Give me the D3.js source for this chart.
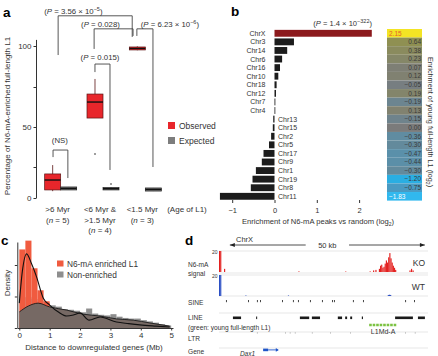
<!DOCTYPE html>
<html>
<head>
<meta charset="utf-8">
<script src="https://cdn.jsdelivr.net/npm/d3@7"></script>
<style>
  body { margin: 0; background: #fff; }
  svg { font-family: "Liberation Sans", Arial, sans-serif; }
  text { fill: #333; }
</style>
</head>
<body>
<svg id="fig" width="438" height="356"></svg>
<script>
// ---------- a : boxplots ----------
const ageLines = [[">6 Myr"], ["<6 Myr &", ">1.5 Myr"], ["<1.5 Myr"]]
const ageN = [5, 4, 3]
// [whisker low, q1, median, q3, whisker high] in %
const observedStats = [[5.5, 6.5, 14.5, 19.4, 26.2], [55.6, 55.6, 65.6, 70.6, 79.9], [97.4, 97.6, 98.5, 99.4, 99.8]]
const expectedStats = [[6.5, 6.5, 7.7, 8.9, 8.9], [6.5, 6.5, 7.5, 8.5, 8.5], [5.6, 5.6, 6.9, 8.1, 8.1]]
const observedOut = [[], [33.1], []]
const expectedOut = [[], [11.3], []]
const yTicksA = [0, 25, 50, 75, 100]
const pValues = ["NS", "0.015", "0.028", "3.56 × 10", "6.23 × 10"]
const pExp = ["", "", "", "−5", "−6"]
// bracket legs (group units) and heights (%): [top, left end, right end]
const bracketX = [[0.32, 0.67], [1.31, 1.665], [1.29, 2.21], [0.44, 2.19], [2.30, 2.68]]
const bracketY = [[35.6, 31.2, 16.1], [89, 84.1, 22.6], [110.4, 98.2, 106.1], [118.3, 94.5, 105.5], [110.4, 106.1, 25]]
const pLabelAt = [[0.48, 40], [1.43, 91.5], [1.44, 111.6], [0.8, 119.5], [3.08, 111.6]]

// ---------- b : chromosomes ----------
const chromosomes = ["ChrX", "Chr3", "Chr14", "Chr6", "Chr16", "Chr10", "Chr18", "Chr12", "Chr7", "Chr4",
  "Chr13", "Chr15", "Chr2", "Chr5", "Chr17", "Chr9", "Chr1", "Chr19", "Chr8", "Chr11"]
const peakEnrichment = [2.30, 0.46, 0.30, 0.18, 0.13, 0.09, 0.05, 0.035, 0.02, 0.01,
  -0.03, -0.04, -0.08, -0.13, -0.26, -0.30, -0.44, -0.52, -0.56, -1.29]
const youngL1 = [2.15, 0.64, 0.38, 0.23, 0.07, 0.12, -0.05, 0.19, -0.19, 0.13,
  -0.15, 0.00, -0.36, -0.30, -0.47, -0.44, -0.30, -1.20, -0.75, -1.83]
const xTicksB = [-1, 0, 1, 2]

// ---------- c : distance histograms ----------
const binWidth = 0.2 // Mb
const enrichedHist = [2.5, 2.78, 1.9, 1.2, 0.85, 0.5, 0.42, 0.36, 0.33, 0.45, 0.5, 0.3, 0.28, 0.36, 0.3,
  0.2, 0.22, 0.16, 0.13, 0.11, 0.1, 0.08, 0.06, 0.04, 0.03]
const nonEnrichedHist = [0.48, 0.98, 0.92, 0.85, 0.78, 0.72, 0.68, 0.6, 0.58, 0.55, 0.5, 0.62, 0.46, 0.42, 0.4,
  0.44, 0.36, 0.32, 0.3, 0.3, 0.25, 0.21, 0.17, 0.12, 0.08]
const enrichedDensity = [[0, 0.79], [0.1, 1.8], [0.24, 2.36], [0.4, 2.05], [0.57, 1.62], [0.79, 0.95], [1.0, 0.73],
  [1.3, 0.5], [1.56, 0.38], [1.8, 0.42], [2.0, 0.48], [2.3, 0.25], [2.66, 0.35], [3.2, 0.19], [3.6, 0.14],
  [3.97, 0.1], [4.5, 0.06], [4.95, 0.03]]
const nonEnrichedDensity = [[0, 0.51], [0.3, 0.7], [0.62, 0.79], [1.0, 0.67], [1.56, 0.57], [2.1, 0.44],
  [2.66, 0.38], [3.2, 0.29], [3.75, 0.25], [4.3, 0.16], [4.95, 0.06]]
const xTicksC = [0, 1, 2, 3, 4, 5]

// ---------- d : genome browser (kb) ----------
const koSignal = [[0, 20], [0.3, 20], [1.3, 3], [20.5, 0.6], [32.6, 0.5], [38.9, 0.6], [39.8, 1.5], [40.4, 2],
  [41.3, 3], [41.6, 6], [41.9, 7], [42.2, 4], [42.5, 5], [42.8, 8], [43.1, 11], [43.4, 9], [43.7, 14], [44.0, 18],
  [44.3, 13], [44.6, 9], [44.9, 6], [45.2, 4], [45.5, 2], [49.2, 1.5], [49.6, 3], [50.0, 1.5]]
const wtSignal = [[0, 20], [0.3, 20], [6.8, 0.5], [17.8, 0.5], [43.6, 1], [43.9, 1.2], [44.2, 1]]
const sineSites = [1.8, 7.5, 9.8, 10.6, 16.3, 19.1, 20.4, 23.5, 26.6, 29.2, 29.7, 34.6, 37.2, 48.1, 50.4]
const lineBlocks = [[3.6, 5.7], [9.6, 9.8], [20.9, 23.3], [24.0, 26.1], [30.7, 31.8], [32.6, 33.1], [33.9, 34.4],
  [36.9, 37.2], [45.5, 50.1], [51.4, 53.2]]
const youngL1Block = [38.8, 46.0]
const ltrSites = [9.8, 17.1, 18.3, 19.6, 24.0, 28.7, 33.9, 48.1, 50.6]
const dax1 = { exon: [11.4, 12.7], end: 15.2 }

const svg = d3.select("#fig")
const ink = "#333"

// panel letters
svg.selectAll(".letter").data([["a", 3, 17], ["b", 231, 16], ["c", 1, 245], ["d", 185, 245]])
  .join("text").attr("x", d => d[1]).attr("y", d => d[2])
  .attr("font-size", 13.5).attr("font-weight", "bold").style("fill", "#000").text(d => d[0])

function styleAxis(g, size) {
  g.attr("font-family", null).attr("font-size", size)
  g.selectAll("line, path").attr("stroke", ink)
  g.selectAll("text").style("fill", ink)
}

// ================= a =================
const gA = svg.append("g")
const xA = d3.scaleLinear().domain([0, 3]).range([39.5, 166.5])
const yA = d3.scaleLinear().domain([0, 25, 50, 75, 100, 104]).range([198, 167, 127, 87, 46, 39.4])
const boxW = 0.378

gA.append("g").attr("transform", "translate(36,0)")
  .call(d3.axisLeft(yA).tickValues(yTicksA).tickFormat(d => d % 50 ? "" : d)
    .tickSize(2.5).tickSizeOuter(0).tickPadding(2))
  .call(g => styleAxis(g, 8))

gA.append("text").attr("transform", "translate(10,116) rotate(-90)")
  .attr("text-anchor", "middle").attr("font-size", 8)
  .text("Percentage of N6-mA-enriched full-length L1")

function drawBox(stats, outs, x0, fill, stroke) {
  const [lo, q1, med, q3, hi] = stats
  const cx = xA(x0 + boxW / 2)
  gA.append("line").attr("x1", cx).attr("x2", cx).attr("y1", yA(hi)).attr("y2", yA(lo))
    .attr("stroke", stroke).attr("stroke-width", 0.8)
  gA.append("rect").attr("x", xA(x0)).attr("width", xA(x0 + boxW) - xA(x0))
    .attr("y", yA(q3)).attr("height", Math.max(yA(q1) - yA(q3), 1.5))
    .attr("fill", fill).attr("stroke", stroke).attr("stroke-width", 0.7)
  gA.append("line").attr("x1", xA(x0)).attr("x2", xA(x0 + boxW)).attr("y1", yA(med)).attr("y2", yA(med))
    .attr("stroke", "#111").attr("stroke-width", 1.4)
  outs.forEach(o => gA.append("circle").attr("cx", cx).attr("cy", yA(o)).attr("r", 0.8).attr("fill", "#222"))
}
ageLines.forEach((lines, i) => {
  drawBox(observedStats[i], observedOut[i], i + 0.5 - boxW, "#e8262b", "#5a1414")
  drawBox(expectedStats[i], expectedOut[i], i + 0.5, "#7d7d7d", "#222")
  const t = gA.append("text").attr("text-anchor", "middle").attr("font-size", 8)
  lines.forEach((l, k) => t.append("tspan").attr("x", xA(i + 0.5) - 3).attr("y", 212 + k * 10.5).text(l))
  t.append("tspan").attr("x", xA(i + 0.5) - 3).attr("y", 212 + lines.length * 10.5).text("(")
  t.append("tspan").attr("font-style", "italic").text("n")
  t.append("tspan").text(" = " + ageN[i] + ")")
})
gA.append("text").attr("x", 187).attr("y", 212).attr("text-anchor", "middle").attr("font-size", 8).text("(Age of L1)")

// significance brackets
pValues.forEach((p, i) => {
  const [xl, xr] = bracketX[i].map(xA)
  const [top, el, er] = bracketY[i].map(yA)
  gA.append("path").attr("d", `M${xl},${el}V${top}H${xr}V${er}`)
    .attr("fill", "none").attr("stroke", "#444").attr("stroke-width", 0.9)
  const t = gA.append("text").attr("x", xA(pLabelAt[i][0])).attr("y", yA(pLabelAt[i][1]))
    .attr("text-anchor", "middle").attr("font-size", 7.8)
  if (p === "NS") { t.text("(NS)"); return }
  t.append("tspan").text("(")
  t.append("tspan").attr("font-style", "italic").text("P")
  t.append("tspan").text(" = " + p)
  if (pExp[i]) {
    t.append("tspan").attr("dy", -3).attr("font-size", 5.5).text(pExp[i])
    t.append("tspan").attr("dy", 3).text(")")
  } else t.append("tspan").text(")")
})

// legend a
const legA = [["Observed", "#e8262b"], ["Expected", "#7d7d7d"]]
legA.forEach(([name, c], i) => {
  gA.append("rect").attr("x", 168).attr("y", 122 + i * 15).attr("width", 7).attr("height", 7).attr("fill", c)
  gA.append("text").attr("x", 179).attr("y", 129 + i * 15).attr("font-size", 8.5).text(name)
})

// ================= b =================
const gB = svg.append("g")
const yB = d3.scaleBand().domain(chromosomes).range([29, 200.6]).paddingInner(0.2).paddingOuter(0.1)
const xB = d3.scaleLinear().domain([-1, 2]).range([232.2, 359.1])

gB.selectAll("rect.bar").data(chromosomes).join("rect").attr("class", "bar")
  .attr("x", (c, i) => xB(Math.min(0, peakEnrichment[i])))
  .attr("width", (c, i) => Math.max(Math.abs(xB(peakEnrichment[i]) - xB(0)), 0.8))
  .attr("y", c => yB(c)).attr("height", yB.bandwidth())
  .attr("fill", (c, i) => i === 0 ? "#8c1a1d" : "#1c1c1c")

gB.selectAll("text.chr").data(chromosomes).join("text").attr("class", "chr")
  .attr("x", (c, i) => peakEnrichment[i] >= 0 ? xB(0) - 9 : xB(0) + 3.5)
  .attr("y", c => yB(c) + yB.bandwidth() / 2 + 2.5)
  .attr("text-anchor", (c, i) => peakEnrichment[i] >= 0 ? "end" : "start")
  .attr("font-size", 7).text(c => c)

gB.append("g").attr("transform", "translate(0,200)")
  .call(d3.axisBottom(xB).tickValues(xTicksB).tickFormat(d3.format("d")).tickSize(3).tickPadding(4.5))
  .call(g => g.select(".domain").remove())
  .call(g => styleAxis(g, 7.5))

const xlabB = gB.append("text").attr("x", 318).attr("y", 224).attr("text-anchor", "middle").attr("font-size", 7.6)
xlabB.append("tspan").text("Enrichment of N6-mA peaks vs random (log")
xlabB.append("tspan").attr("dy", 2).attr("font-size", 5).text("2")
xlabB.append("tspan").attr("dy", -2).text(")")

const pB = gB.append("text").attr("x", 372).attr("y", 26).attr("text-anchor", "end").attr("font-size", 7.6)
pB.append("tspan").text("(")
pB.append("tspan").attr("font-style", "italic").text("P")
pB.append("tspan").text(" = 1.4 × 10")
pB.append("tspan").attr("dy", -3).attr("font-size", 5.5).text("−322")
pB.append("tspan").attr("dy", 3).text(")")

// colour column
const heat = d3.scaleLinear()
  .domain([-1.83, -1.2, -0.75, -0.3, 0, 0.3, 0.64, 2.15])
  .range(["#31b8ee", "#2aaee2", "#4a9ac2", "#638a9c", "#7b7b7b", "#888a62", "#8f9052", "#f3e424"])
const cellPad = yB.step() * yB.paddingInner() / 2
gB.selectAll("rect.cell").data(chromosomes).join("rect").attr("class", "cell")
  .attr("x", 387).attr("width", 35)
  .attr("y", c => yB(c) - cellPad).attr("height", yB.step())
  .attr("fill", (c, i) => heat(youngL1[i]))
gB.selectAll("text.cell").data(chromosomes).join("text").attr("class", "cell")
  .attr("x", (c, i) => i === 0 || i === chromosomes.length - 1 ? 389 : 421)
  .attr("y", c => yB(c) + yB.bandwidth() / 2 + 2.3)
  .attr("text-anchor", (c, i) => i === 0 || i === chromosomes.length - 1 ? "start" : "end")
  .attr("font-size", 6.5)
  .style("fill", (c, i) => i === 0 ? "#e4602a" : i === chromosomes.length - 1 ? "#fff" : "#3a3a3a")
  .text((c, i) => d3.format(".2f")(youngL1[i]))

const clab = gB.append("text").attr("transform", "translate(427.5,122) rotate(90)")
  .attr("text-anchor", "middle").attr("font-size", 7.3)
clab.append("tspan").text("Enrichment of young full-length L1 (log")
clab.append("tspan").attr("dy", 2).attr("font-size", 5).text("2")
clab.append("tspan").attr("dy", -2).text(")")

// ================= c =================
const gC = svg.append("g")
const xC = d3.scaleLinear().domain([-0.066, 5.06]).range([17.3, 173])
const yC = d3.scaleLinear().domain([0, 2.8]).range([328, 240])

gC.selectAll("rect.grey").data(nonEnrichedHist).join("rect").attr("class", "grey")
  .attr("x", (v, i) => xC(i * binWidth)).attr("width", xC(binWidth) - xC(0))
  .attr("y", v => yC(v)).attr("height", v => yC(0) - yC(v)).attr("fill", "#8e8e8e")
gC.selectAll("rect.red").data(enrichedHist).join("rect").attr("class", "red")
  .attr("x", (v, i) => xC(i * binWidth)).attr("width", xC(binWidth) - xC(0))
  .attr("y", v => yC(v)).attr("height", v => yC(0) - yC(v))
  .attr("fill", "#f05b3f").attr("fill-opacity", (v, i) => v > nonEnrichedHist[i] ? 1 : 0)

gC.append("path").datum(nonEnrichedDensity)
  .attr("d", d3.area().x(d => xC(d[0])).y0(yC(0)).y1(d => yC(d[1])).curve(d3.curveMonotoneX))
  .attr("fill", "#766964")
const densLine = d3.line().x(d => xC(d[0])).y(d => yC(d[1])).curve(d3.curveMonotoneX)
gC.append("path").datum(nonEnrichedDensity).attr("d", densLine).attr("fill", "none").attr("stroke", "#1a1a1a").attr("stroke-width", 0.9)
gC.append("path").datum(enrichedDensity).attr("d", densLine).attr("fill", "none").attr("stroke", "#111").attr("stroke-width", 1.1)

gC.append("g").attr("transform", "translate(0,328)")
  .call(d3.axisBottom(xC).tickValues(xTicksC).tickFormat(d3.format("d")).tickSize(2.5).tickSizeOuter(0).tickPadding(1.5))
  .call(g => styleAxis(g, 8))
gC.append("g").attr("transform", "translate(17.3,0)")
  .call(d3.axisLeft(d3.scaleLinear().domain([0, 2.73]).range([328, 242])).tickValues([0, 1, 2]).tickFormat("").tickSize(2.5).tickSizeOuter(0))
  .call(g => styleAxis(g, 8))

gC.append("text").attr("transform", "translate(9.5,283) rotate(-90)").attr("text-anchor", "middle")
  .attr("font-size", 8).text("Density")
gC.append("text").attr("x", 94).attr("y", 350).attr("text-anchor", "middle").attr("font-size", 8)
  .text("Distance to downregulated genes (Mb)")

const legC = [["N6-mA enriched L1", "#f05b3f"], ["Non-enriched", "#8e8e8e"]]
legC.forEach(([name, c], i) => {
  gC.append("rect").attr("x", 57).attr("y", 260.5 + i * 11).attr("width", 6.5).attr("height", 6).attr("fill", c)
  gC.append("text").attr("x", 67).attr("y", 267 + i * 11).attr("font-size", 8.3).text(name)
})

// ================= d =================
const gD = svg.append("g")
const xD = d3.scaleLinear().domain([0, 54]).range([219, 428])
const hSig = d3.scaleLinear().domain([0, 20]).range([0, 21])

gD.append("text").attr("x", 236).attr("y", 242).attr("font-size", 7.5).text("ChrX")
gD.append("text").attr("x", xD(28)).attr("y", 247.8).attr("text-anchor", "middle").attr("font-size", 7.5).text("50 kb")
gD.append("path").attr("d", `M${xD(2.8)},245H${xD(22.4)}M${xD(33.6)},245H${xD(53.2)}`).attr("stroke", "#222").attr("stroke-width", 0.8)
gD.append("path").attr("d", `M${xD(2.8)},245l5,-2v4z M${xD(53.2)},245l-5,-2v4z`).attr("fill", "#222")

// track guide lines
;[251, 273, 275, 296, 313, 332, 348].forEach(y =>
  gD.append("line").attr("x1", 219).attr("x2", 428).attr("y1", y).attr("y2", y).attr("stroke", "#d6d6d6").attr("stroke-width", 0.6))

function drawSignal(data, base, color) {
  gD.selectAll(null).data(data).join("rect")
    .attr("x", d => xD(d[0])).attr("width", xD(0.3) - xD(0))
    .attr("y", d => base - hSig(d[1])).attr("height", d => hSig(d[1])).attr("fill", color)
}
drawSignal(koSignal, 272, "#e3201f")
drawSignal(wtSignal, 296, "#2b4fc4")
;[[251, "KO"], [275, "WT"]].forEach(([y, name]) => {
  gD.append("text").attr("x", 217.5).attr("y", y + 3).attr("text-anchor", "end").attr("font-size", 5).text("20")
  gD.append("text").attr("x", 425).attr("y", y + 14.5).attr("text-anchor", "end").attr("font-size", 8.5).text(name)
})

gD.selectAll(null).data(sineSites).join("rect")
  .attr("x", d => xD(d)).attr("width", 0.9).attr("y", 300).attr("height", 2.2).attr("fill", "#333")
gD.selectAll(null).data(lineBlocks).join("rect")
  .attr("x", d => xD(d[0])).attr("width", d => Math.max(xD(d[1]) - xD(d[0]), 1))
  .attr("y", 316.5).attr("height", 2.6).attr("fill", "#1a1a1a")
gD.append("line").attr("x1", xD(youngL1Block[0])).attr("x2", xD(youngL1Block[1])).attr("y1", 325).attr("y2", 325)
  .attr("stroke", "#7cc242").attr("stroke-width", 2.6).attr("stroke-dasharray", "2.6,0.9")
gD.append("text").attr("x", xD(d3.mean(youngL1Block))).attr("y", 333.5).attr("text-anchor", "middle")
  .attr("font-size", 7).text("L1Md-A")
gD.selectAll(null).data(ltrSites).join("rect")
  .attr("x", d => xD(d)).attr("width", 0.6).attr("y", 332).attr("height", 1.8).attr("fill", "#aaa")

gD.append("rect").attr("x", xD(dax1.exon[0])).attr("width", xD(dax1.exon[1]) - xD(dax1.exon[0]))
  .attr("y", 348.6).attr("height", 2.6).attr("fill", "#1f55c8")
gD.append("line").attr("x1", xD(dax1.exon[1])).attr("x2", xD(dax1.end)).attr("y1", 349.9).attr("y2", 349.9)
  .attr("stroke", "#1f55c8").attr("stroke-width", 0.9)
gD.append("path").attr("d", `M${xD(dax1.end) + 1},349.9l-3,-1.8v3.6z`).attr("fill", "#1f55c8")
gD.append("text").attr("x", 247.5).attr("y", 356).attr("text-anchor", "middle").attr("font-size", 6.5)
  .attr("font-style", "italic").text("Dax1")

const trackLabels = [["N6-mA", 267], ["signal", 276], ["SINE", 304.5], ["LINE", 320], ["(green: young full-length L1)", 329.5], ["LTR", 341], ["Gene", 354]]
trackLabels.forEach(([name, y]) =>
  gD.append("text").attr("x", 188).attr("y", y).attr("font-size", 6.6).text(name))
</script>
</body>
</html>
